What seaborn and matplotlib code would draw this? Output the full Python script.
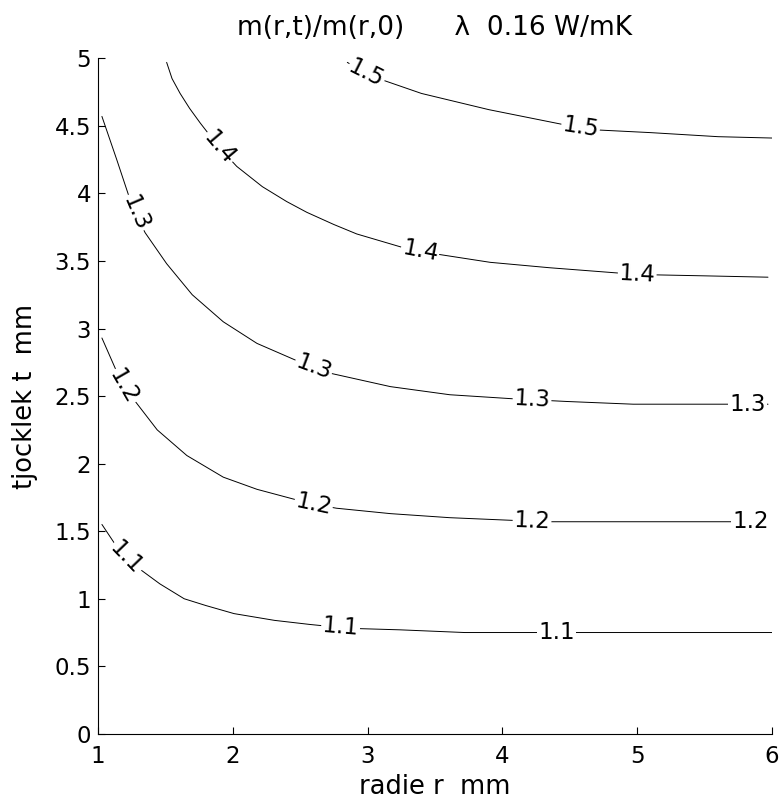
import numpy as np
import pandas as pd
import matplotlib
matplotlib.use("Agg")
import matplotlib.pyplot as plt
import seaborn as sns

# contour levels m(r,t)/m(r,0)
levels = [1.1, 1.2, 1.3, 1.4, 1.5]

r_11 = [1.03, 1.13, 1.22, 1.31, 1.46, 1.64, 1.80, 2.01, 2.31, 2.57, 2.77, 2.90, 3.24, 3.72, 4.40, 5.00, 6.00]
t_11 = [1.55, 1.40, 1.29, 1.22, 1.11, 1.00, 0.95, 0.89, 0.84, 0.81, 0.79, 0.78, 0.77, 0.75, 0.75, 0.75, 0.75]

r_12 = [1.03, 1.14, 1.19, 1.27, 1.44, 1.66, 1.93, 2.18, 2.48, 2.60, 2.77, 3.17, 3.61, 4.08, 4.35, 5.00, 5.97]
t_12 = [2.93, 2.68, 2.57, 2.47, 2.25, 2.06, 1.90, 1.81, 1.73, 1.70, 1.67, 1.63, 1.60, 1.58, 1.57, 1.57, 1.57]

r_13 = [1.03, 1.14, 1.24, 1.30, 1.35, 1.51, 1.70, 1.93, 2.18, 2.48, 2.72, 3.17, 3.61, 4.08, 4.48, 4.97, 5.97]
t_13 = [4.57, 4.25, 3.95, 3.81, 3.71, 3.48, 3.25, 3.05, 2.89, 2.76, 2.67, 2.57, 2.51, 2.48, 2.46, 2.44, 2.44]

r_14 = [1.51, 1.55, 1.61, 1.68, 1.76, 1.90, 2.03, 2.22, 2.40, 2.55, 2.75, 2.92, 3.26, 3.52, 3.91, 4.35, 5.00, 5.50, 5.97]
t_14 = [4.97, 4.85, 4.74, 4.63, 4.52, 4.34, 4.20, 4.05, 3.94, 3.86, 3.77, 3.70, 3.60, 3.55, 3.49, 3.45, 3.40, 3.39, 3.38]

r_15 = [2.85, 3.00, 3.11, 3.40, 3.90, 4.45, 4.70, 5.10, 5.60, 6.00]
t_15 = [4.97, 4.88, 4.84, 4.74, 4.62, 4.51, 4.47, 4.45, 4.42, 4.41]

# where the inline labels sit along each contour (r in mm)
label_r_11 = [1.21, 2.80, 4.40]
label_r_12 = [1.19, 2.60, 4.22, 5.84]
label_r_13 = [1.28, 2.60, 4.22, 5.82]
label_r_14 = [1.90, 3.39, 5.00]
label_r_15 = [2.99, 4.58]

xticks = [1, 2, 3, 4, 5, 6]
yticks = [0, 0.5, 1, 1.5, 2, 2.5, 3, 3.5, 4, 4.5, 5]

curves = {
    1.1: (r_11, t_11, label_r_11),
    1.2: (r_12, t_12, label_r_12),
    1.3: (r_13, t_13, label_r_13),
    1.4: (r_14, t_14, label_r_14),
    1.5: (r_15, t_15, label_r_15),
}

df = pd.concat(
    [pd.DataFrame({"r": c[0], "t": c[1], "level": lev}) for lev, c in curves.items()],
    ignore_index=True,
)

sns.set_style("ticks")
plt.rcParams["font.family"] = ["DejaVu Sans"]
plt.rcParams.update({
    "text.color": "black", "axes.labelcolor": "black",
    "xtick.color": "black", "ytick.color": "black", "axes.edgecolor": "black",
})

fig = plt.figure(figsize=(7.83, 8.10), dpi=100)
ax = fig.add_axes([0.125, 0.094, 0.861, 0.834])

sns.lineplot(data=df, x="r", y="t", units="level", estimator=None, sort=False,
             color="black", linewidth=0.7, ax=ax)

ax.set_xlim(1, 6)
ax.set_ylim(0, 5)
ax.set_xticks(xticks)
ax.set_yticks(yticks)
ax.set_xticklabels([str(v) for v in xticks])
ax.set_yticklabels(["0" if v == 0 else ("%g" % v) for v in yticks])
ax.tick_params(direction="in", length=5, width=0.8, labelsize=16.5, pad=5)
ax.tick_params(axis="x", pad=8)
sns.despine(ax=ax)
for s in ["left", "bottom"]:
    ax.spines[s].set_linewidth(0.8)

ax.set_xlabel("radie r  mm", fontsize=18.5, labelpad=4)
ax.set_ylabel("tjocklek t  mm", fontsize=18.5, labelpad=12)
ax.set_title("m(r,t)/m(r,0)      λ  0.16 W/mK", fontsize=19, pad=17)

# inline contour labels, rotated along the curve, white box cuts the line
fig.canvas.draw()
for lev, (r, t, lab_r) in curves.items():
    for rl in lab_r:
        tl = np.interp(rl, r, t)
        d = 0.06
        p1 = ax.transData.transform((rl - d, np.interp(rl - d, r, t)))
        p2 = ax.transData.transform((rl + d, np.interp(rl + d, r, t)))
        ang = np.degrees(np.arctan2(p2[1] - p1[1], p2[0] - p1[0]))
        ax.text(rl, tl, "%.1f" % lev, fontsize=16.5, rotation=ang,
                rotation_mode="anchor", ha="center", va="center",
                bbox=dict(boxstyle="square,pad=0.05", fc="white", ec="none"))

fig.savefig("out.png", dpi=100)
